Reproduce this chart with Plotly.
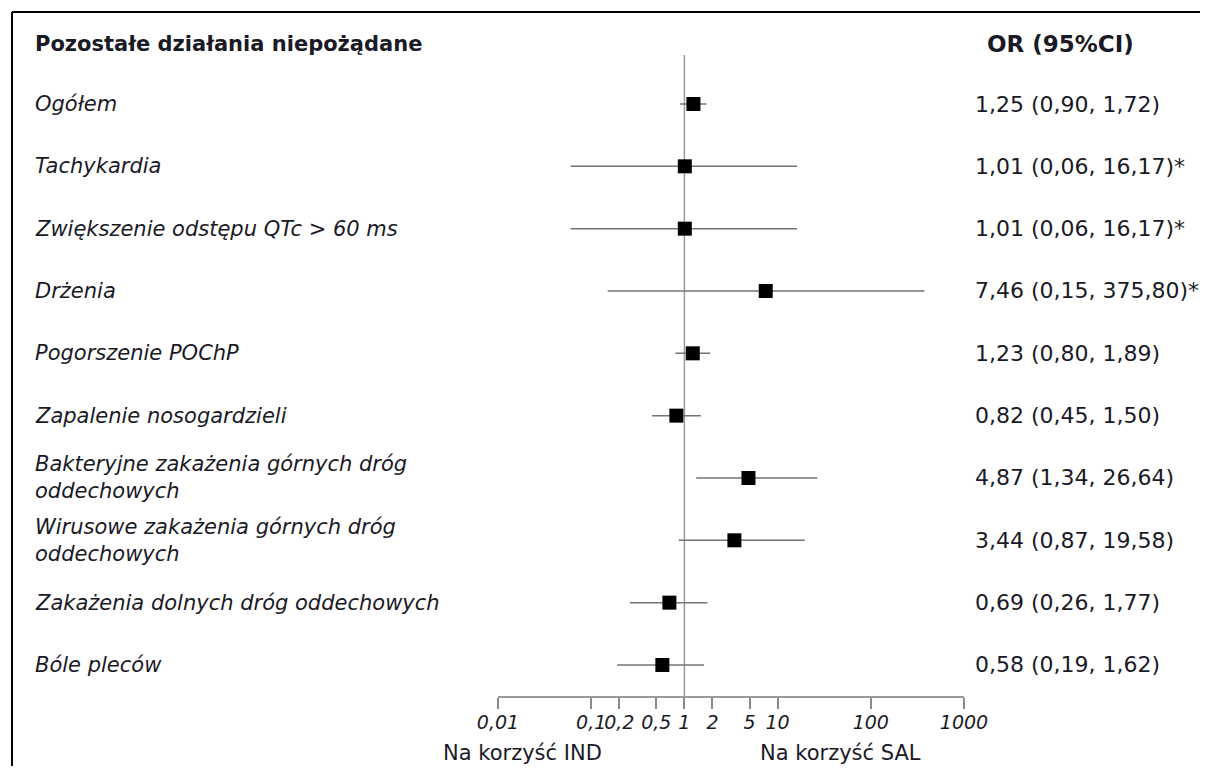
import plotly.graph_objects as go

labels = [
    "Ogółem",
    "Tachykardia",
    "Zwiększenie odstępu QTc > 60 ms",
    "Drżenia",
    "Pogorszenie POChP",
    "Zapalenie nosogardzieli",
    "Bakteryjne zakażenia górnych dróg<br>oddechowych",
    "Wirusowe zakażenia górnych dróg<br>oddechowych",
    "Zakażenia dolnych dróg oddechowych",
    "Bóle pleców",
]
or_vals = [1.25, 1.01, 1.01, 7.46, 1.23, 0.82, 4.87, 3.44, 0.69, 0.58]
ci_low = [0.90, 0.06, 0.06, 0.15, 0.80, 0.45, 1.34, 0.87, 0.26, 0.19]
ci_high = [1.72, 16.17, 16.17, 375.80, 1.89, 1.50, 26.64, 19.58, 1.77, 1.62]
or_text = [
    "1,25 (0,90, 1,72)",
    "1,01 (0,06, 16,17)*",
    "1,01 (0,06, 16,17)*",
    "7,46 (0,15, 375,80)*",
    "1,23 (0,80, 1,89)",
    "0,82 (0,45, 1,50)",
    "4,87 (1,34, 26,64)",
    "3,44 (0,87, 19,58)",
    "0,69 (0,26, 1,77)",
    "0,58 (0,19, 1,62)",
]
tick_vals = [0.01, 0.1, 0.2, 0.5, 1, 2, 5, 10, 100, 1000]
tick_text = ["0,01", "0,1", "0,2", "0,5", "1", "2", "5", "10", "100", "1000"]
header_left = "Pozostałe działania niepożądane"
header_right = "OR (95%CI)"
favour_left = "Na korzyść IND"
favour_right = "Na korzyść SAL"

# the page body has an 8px margin; figure is sized to fill the window exactly
OFF = 8
W, H = 1208 - 2 * OFF, 774 - 2 * OFF
FONT = "DejaVu Sans"
TXT = "#1a1a26"
rows = list(range(len(labels)))


def px(x):
    return (x - OFF) / W


def py(y):
    return 1 - (y - OFF) / H


fig = go.Figure()

# CI lines
for i in rows:
    fig.add_trace(go.Scatter(
        x=[ci_low[i], ci_high[i]], y=[i, i], mode="lines",
        line=dict(color="#747474", width=1.5), showlegend=False, hoverinfo="skip"))

# point estimates
fig.add_trace(go.Scatter(
    x=or_vals, y=rows, mode="markers",
    marker=dict(symbol="square", size=14, color="black"),
    showlegend=False))

# geometry in reference-page pixels
x_left_px, x_right_px = 498, 964
y_axis_px = 696
y_top_px = 55
row0_px, row_step = 104, 62.33
y_lo = 9 + (y_axis_px - (row0_px + 9 * row_step)) / row_step
y_hi = (y_top_px - row0_px) / row_step

fig.update_layout(
    template="none",
    width=W, height=H,
    margin=dict(l=0, r=0, t=0, b=0, pad=0),
    paper_bgcolor="white", plot_bgcolor="white",
    font=dict(family=FONT, color=TXT, size=21),
    showlegend=False,
    xaxis=dict(
        type="log", range=[-2, 3],
        domain=[px(x_left_px), px(x_right_px)],
        automargin=False,
        showgrid=False, zeroline=False,
        showline=True, linecolor="#9a9a9a", linewidth=1.5,
        ticks="outside", ticklen=11, tickcolor="#8a8a8a", tickwidth=1.5,
        tickvals=tick_vals, ticktext=tick_text, tickangle=0,
        ticklabelstandoff=-3,
        tickfont=dict(family=FONT, size=19, color=TXT, style="italic"),
    ),
    yaxis=dict(
        range=[y_lo, y_hi],
        domain=[py(y_axis_px), py(y_top_px)],
        automargin=False,
        visible=False,
    ),
)

# reference line at OR = 1
fig.add_shape(type="line", xref="x", yref="y domain", x0=1, x1=1, y0=0, y1=1,
              line=dict(color="#9a9a9a", width=1.5), layer="below")

# frame (top and left border)
fig.add_shape(type="line", xref="paper", yref="paper",
              x0=px(12), x1=1.02, y0=py(12), y1=py(12),
              line=dict(color="black", width=2))
fig.add_shape(type="line", xref="paper", yref="paper",
              x0=px(12), x1=px(12), y0=py(12), y1=-0.02,
              line=dict(color="black", width=2))

ann = []
for i in rows:
    ann.append(dict(x=px(33), xref="paper", y=i, yref="y", text=labels[i],
                    showarrow=False, xanchor="left", yanchor="middle", align="left",
                    font=dict(family=FONT, size=21, color=TXT, style="italic")))
    ann.append(dict(x=px(973), xref="paper", y=i, yref="y", text=or_text[i],
                    showarrow=False, xanchor="left", yanchor="middle", align="left",
                    font=dict(family=FONT, size=22, color=TXT)))
ann.append(dict(x=px(33), xref="paper", y=py(44), yref="paper", text=header_left,
                showarrow=False, xanchor="left", yanchor="middle",
                font=dict(family=FONT, size=21, color=TXT, weight="bold")))
ann.append(dict(x=px(985), xref="paper", y=py(44), yref="paper", text=header_right,
                showarrow=False, xanchor="left", yanchor="middle",
                font=dict(family=FONT, size=23, color=TXT, weight="bold")))
ann.append(dict(x=px(441), xref="paper", y=py(753), yref="paper", text=favour_left,
                showarrow=False, xanchor="left", yanchor="middle",
                font=dict(family=FONT, size=21, color=TXT)))
ann.append(dict(x=px(758), xref="paper", y=py(753), yref="paper", text=favour_right,
                showarrow=False, xanchor="left", yanchor="middle",
                font=dict(family=FONT, size=21, color=TXT)))
fig.update_layout(annotations=ann)

fig.write_html("out.html")
